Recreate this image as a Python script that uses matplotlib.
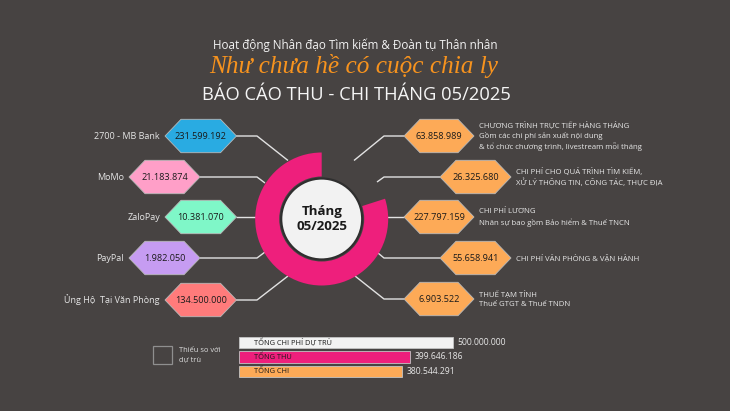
import matplotlib
matplotlib.use("Agg")
import matplotlib.pyplot as plt
from matplotlib.patches import Polygon, Wedge, Circle, Rectangle

BG = "#474342"
FONT = "Open Sans"

source_labels = ["2700 - MB Bank", "MoMo", "ZaloPay", "PayPal", "Ủng Hộ  Tại Văn Phòng"]
source_values = ["231.599.192", "21.183.874", "10.381.070", "1.982.050", "134.500.000"]
source_colors = ["#29abe2", "#ff9fc8", "#7ff7c8", "#c69cf2", "#ff7b7b"]

cost_values = ["63.858.989", "26.325.680", "227.797.159", "55.658.941", "6.903.522"]
cost_notes = [
    ["CHƯƠNG TRÌNH TRỰC TIẾP HÀNG THÁNG", "Gồm các chi phí sản xuất nội dung", "& tổ chức chương trình, livestream mỗi tháng"],
    ["CHI PHÍ CHO QUÁ TRÌNH TÌM KIẾM,", "XỬ LÝ THÔNG TIN, CÔNG TÁC, THỰC ĐỊA"],
    ["CHI PHÍ LƯƠNG", "Nhân sự bao gồm Bảo hiểm & Thuế TNCN"],
    ["CHI PHÍ VĂN PHÒNG & VẬN HÀNH"],
    ["THUẾ TẠM TÍNH", "Thuế GTGT & Thuế TNDN"],
]

total_labels = ["TỔNG CHI PHÍ DỰ TRÙ", "TỔNG THU", "TỔNG CHI"]
total_values = [500000000, 399646186, 380544291]
total_texts = ["500.000.000", "399.646.186", "380.544.291"]
total_colors = ["#f2f2f2", "#ee1f7c", "#fdaa57"]

fig = plt.figure(figsize=(7.30, 4.11), dpi=100, facecolor=BG)
ax = fig.add_axes([0, 0, 1, 1])
ax.set_xlim(0, 730)
ax.set_ylim(411, 0)
ax.axis("off")


def hexagon(x0, x1, yc, color):
    tip, h = 16, 16.7
    ax.add_patch(Polygon(
        [(x0, yc), (x0 + tip, yc - h), (x1 - tip, yc - h), (x1, yc), (x1 - tip, yc + h), (x0 + tip, yc + h)],
        closed=True, facecolor=color, edgecolor="#b9b9b9", linewidth=0.6, zorder=3))


def leader(points):
    xs, ys = zip(*points)
    ax.plot(xs, ys, color="#e2e2e2", lw=1.0, zorder=1, solid_capstyle="butt")


# Titles
ax.text(355.5, 45, "Hoạt động Nhân đạo Tìm kiếm & Đoàn tụ Thân nhân", color="#f2f2f2", fontsize=8.4,
        family=FONT, ha="center", va="center")
ax.text(354, 66, "Như chưa hề có cuộc chia ly", color="#f7931e", fontsize=18.2, family="Liberation Serif",
        style="italic", ha="center", va="center")
ax.text(356.5, 95, "BÁO CÁO THU - CHI THÁNG 05/2025", color="#f5f5f5", fontsize=13.2, family=FONT,
        ha="center", va="center")

# Donut: share of the budget collected, running counter-clockwise from the top on screen
cx, cy = 321.7, 219
share = total_values[1] / total_values[0]
ax.add_patch(Wedge((cx, cy), 66.5, -90 - 360 * share, -90, width=24, facecolor=total_colors[1],
                   edgecolor="none", zorder=2))
ax.add_patch(Circle((cx, cy), 40.5, facecolor="#f2f2f2", edgecolor="#2f2f2f", linewidth=1.6, zorder=4))
ax.text(cx, cy, "Tháng\n05/2025", color="#1a1a1a", fontsize=9.6, weight="bold", family=FONT,
        ha="center", va="center", linespacing=1.15, zorder=5)

# Left side
left_rows = [(165, 236.5, 136), (129, 200, 177), (165, 236.5, 217), (129, 200, 258), (165, 236.5, 300)]
left_lines = [
    [(236, 136), (257, 136), (288, 160.5)],
    [(200, 177), (257, 177), (265, 183)],
    [(236, 217), (257, 217)],
    [(200, 258), (257, 258), (265, 252)],
    [(236, 300), (257, 300), (288, 276)],
]
for (x0, x1, yc), lab, val, col, line in zip(left_rows, source_labels, source_values, source_colors, left_lines):
    leader(line)
    hexagon(x0, x1, yc, col)
    ax.text((x0 + x1) / 2, yc, val, color="#1a1a1a", fontsize=6.6, family=FONT, ha="center", va="center", zorder=4)
    ax.text(x0 - 5, yc, lab, color="#e6e6e6", fontsize=6.5, family=FONT, ha="right", va="center")

# Right side
right_rows = [(404, 474, 136), (440, 511, 177), (404, 474, 217), (440, 511, 258), (404, 474, 299)]
right_lines = [
    [(404, 136), (384, 136), (354, 160.5)],
    [(440, 177), (384, 177), (377, 182)],
    [(404, 217), (387, 217)],
    [(440, 258), (384, 258), (378, 253)],
    [(404, 299), (384, 299), (355, 276)],
]
for (x0, x1, yc), val, notes, line in zip(right_rows, cost_values, cost_notes, right_lines):
    leader(line)
    hexagon(x0, x1, yc, total_colors[2])
    ax.text((x0 + x1) / 2, yc, val, color="#1a1a1a", fontsize=6.6, family=FONT, ha="center", va="center", zorder=4)
    n = len(notes)
    for i, note in enumerate(notes):
        ax.text(x1 + 5, yc + (i - (n - 1) / 2) * 10.4, note, color="#e6e6e6", fontsize=5.6, family=FONT,
                ha="left", va="center")

# Legend square
ax.add_patch(Rectangle((153, 345.5), 19, 18, facecolor="none", edgecolor="#8f8f8f", linewidth=0.9))
ax.text(179, 350, "Thiếu so với", color="#dddddd", fontsize=5.4, family=FONT, ha="left", va="center")
ax.text(179, 359.5, "dự trù", color="#dddddd", fontsize=5.4, family=FONT, ha="left", va="center")

# Totals bars
bar_x, bar_scale = 239.3, 213.8 / total_values[0]
bar_tops = [336.7, 351, 365.7]
for top, lab, val, txt, col in zip(bar_tops, total_labels, total_values, total_texts, total_colors):
    w = val * bar_scale
    ax.add_patch(Rectangle((bar_x, top), w, 11.6, facecolor=col, edgecolor="#c4c4c4", linewidth=0.6))
    ax.text(254.5, top + 5.8, lab, color="#1a1a1a", fontsize=5.3, family=FONT, ha="left", va="center")
    ax.text(bar_x + w + 4.5, top + 5.8, txt, color="#e6e6e6", fontsize=6.2, family=FONT, ha="left", va="center")

fig.savefig("out.png", dpi=100, facecolor=BG)
